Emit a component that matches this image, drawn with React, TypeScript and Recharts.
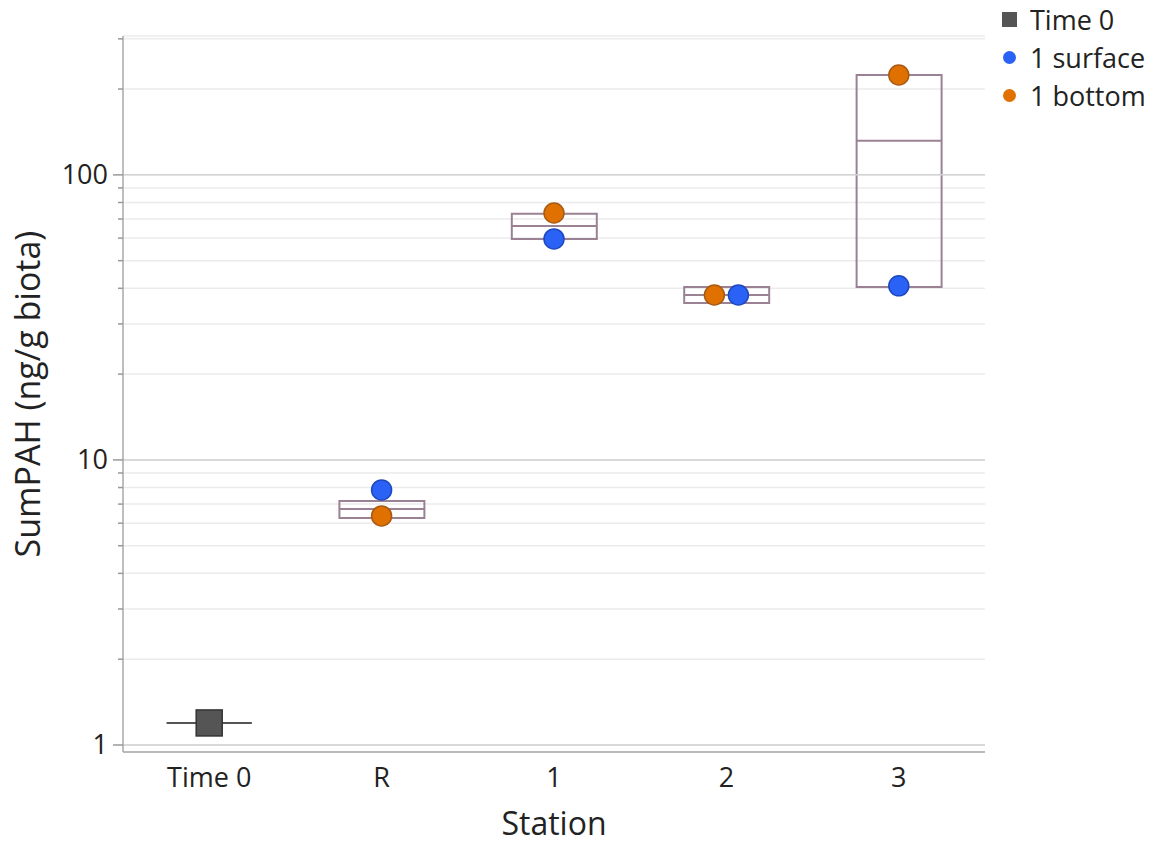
import {
  ComposedChart, XAxis, YAxis, CartesianGrid, Bar, Scatter,
  ReferenceLine, ReferenceArea,
} from "recharts";

// stations along the x axis
const stations = ["Time 0", "R", "1", "2", "3"];
// box (quantile range) and median per station
const boxLow = [null, 6.26, 59.6, 35.5, 40.4];
const boxHigh = [null, 7.18, 73.0, 40.4, 224];
const medians = [1.195, 6.73, 66.2, 37.9, 131.6];

// points
const time0Stations = ["Time 0"];
const time0Values = [1.195];
const pointStations = ["R", "1", "2", "3"];
const surfaceValues = [7.85, 59.6, 37.9, 40.8];
const bottomValues = [6.36, 73.5, 37.9, 224];

// y axis
const majorTicks = [1, 10, 100];
const minorTicks = [2, 3, 4, 5, 6, 7, 8, 9, 20, 30, 40, 50, 60, 70, 80, 90, 200, 300];
const allTicks = [...majorTicks, ...minorTicks].sort((a, b) => a - b);

const legendItems = [
  { name: "Time 0", color: "#555555", square: true },
  { name: "1 surface", color: "#2a62f5", square: false },
  { name: "1 bottom", color: "#e07000", square: false },
];

const FONT = "'Open Sans', sans-serif";
const BOX = "#9a8294";

const rows = stations.map((s, i) => ({
  station: s,
  box: boxLow[i] == null ? null : [boxLow[i], boxHigh[i]],
  median: medians[i],
}));
const time0Data = time0Stations.map((s, i) => ({ station: s, v: time0Values[i] }));
const surfaceData = pointStations.map((s, i) => ({ station: s, v: surfaceValues[i] }));
const bottomData = pointStations.map((s, i) => ({ station: s, v: bottomValues[i] }));

// points that sit on the same value get pushed apart a little
const dodge = (station, side) => (station === "2" ? side * 12 : 0);

const YTick = ({ x, y, payload }) => {
  const major = majorTicks.includes(payload.value);
  return (
    <g>
      <line x1={x - (major ? 10 : 5)} x2={x} y1={y} y2={y} stroke="#999" strokeWidth={1.5} />
      {major && (
        <text x={x - 15} y={y} dy="0.35em" textAnchor="end" fontSize={27} fontFamily={FONT} fill="#222">
          {payload.value}
        </text>
      )}
    </g>
  );
};

const MedianLine = ({ cx, cy }) =>
  cx == null || cy == null ? null : (
    <line x1={cx - 42.5} x2={cx + 42.5} y1={cy} y2={cy} stroke={BOX} strokeWidth={2} />
  );

const Time0Line = ({ cx, cy }) =>
  cx == null || cy == null ? null : (
    <line x1={cx - 42.5} x2={cx + 42.5} y1={cy} y2={cy} stroke="#555" strokeWidth={2} />
  );

const Square = ({ cx, cy }) =>
  cx == null ? null : (
    <rect x={cx - 13} y={cy - 13} width={26} height={26} fill="#555" stroke="#333" strokeWidth={1.5} />
  );

const dot = (fill, stroke, side) => ({ cx, cy, payload }) =>
  cx == null ? null : (
    <circle cx={cx + dodge(payload.station, side)} cy={cy} r={10} fill={fill} stroke={stroke} strokeWidth={1.5} />
  );

export default function App() {
  return (
    <div style={{ position: "absolute", left: 0, top: 0, width: 1156, height: 843, background: "#fff" }}>
      <ComposedChart
        width={1156}
        height={843}
        data={rows}
        margin={{ top: 36, right: 171, bottom: 0, left: 0 }}
      >
        <CartesianGrid horizontal vertical={false} stroke="#ebebeb" strokeWidth={1.5} />
        {majorTicks.map((t) => (
          <ReferenceLine key={t} y={t} stroke="#d2d2d2" strokeWidth={1.5} />
        ))}
        <XAxis
          dataKey="station"
          type="category"
          allowDuplicatedCategory={false}
          height={91}
          tickLine={false}
          tickSize={0}
          tickMargin={16}
          axisLine={{ stroke: "#a8a8a8", strokeWidth: 1.5 }}
          tick={{ fontSize: 27, fontFamily: FONT, fill: "#222" }}
          label={{ value: "Station", position: "insideBottom", offset: 8, fontSize: 32, fontFamily: FONT, fill: "#222" }}
        />
        <YAxis
          scale="log"
          type="number"
          domain={[0.945, 307]}
          allowDataOverflow
          ticks={allTicks}
          interval={0}
          width={123}
          tickLine={false}
          tickSize={0}
          tickMargin={0}
          axisLine={{ stroke: "#a8a8a8", strokeWidth: 1.5 }}
          tick={<YTick />}
          label={{
            value: "SumPAH (ng/g biota)",
            angle: -90,
            position: "insideLeft",
            offset: 28,
            fontSize: 34,
            fontFamily: FONT,
            fill: "#222",
            style: { textAnchor: "middle" },
          }}
        />
        <ReferenceArea fill="none" stroke="#a8a8a8" strokeWidth={1.5} ifOverflow="visible" />
        <Bar dataKey="box" barSize={85} fill="none" stroke={BOX} strokeWidth={2} isAnimationActive={false} />
        <Scatter dataKey="median" shape={MedianLine} isAnimationActive={false} />
        <Scatter data={time0Data} dataKey="v" shape={Time0Line} isAnimationActive={false} />
        <Scatter data={time0Data} dataKey="v" shape={Square} isAnimationActive={false} />
        <Scatter data={bottomData} dataKey="v" shape={dot("#e07000", "#a85a14", -1)} isAnimationActive={false} />
        <Scatter data={surfaceData} dataKey="v" shape={dot("#2a62f5", "#1c48c0", 1)} isAnimationActive={false} />
      </ComposedChart>
      <div style={{ position: "absolute", left: 1000, top: 0, fontFamily: FONT, fontSize: 27, color: "#222" }}>
        {legendItems.map((it) => (
          <div key={it.name} style={{ display: "flex", alignItems: "center", height: 38, whiteSpace: "nowrap" }}>
            <span
              style={{
                display: "inline-block",
                width: it.square ? 15 : 13,
                height: it.square ? 15 : 13,
                borderRadius: it.square ? 0 : "50%",
                background: it.color,
                marginLeft: it.square ? 2 : 3,
                marginRight: it.square ? 13 : 14,
              }}
            />
            {it.name}
          </div>
        ))}
      </div>
    </div>
  );
}
